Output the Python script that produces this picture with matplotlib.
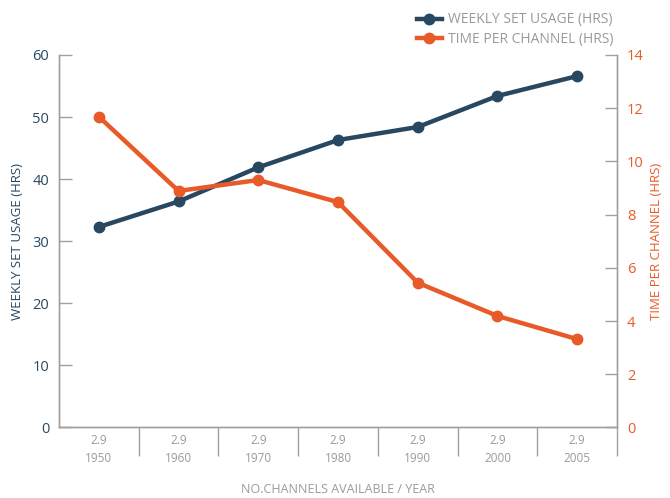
import matplotlib
matplotlib.use("Agg")
import matplotlib.pyplot as plt
from matplotlib.ticker import FixedLocator

# Data
years = ["1950", "1960", "1970", "1980", "1990", "2000", "2005"]
channels = ["2.9", "2.9", "2.9", "2.9", "2.9", "2.9", "2.9"]
weekly_usage = [32.3, 36.4, 41.9, 46.3, 48.4, 53.4, 56.6]
time_per_channel = [11.68, 8.89, 9.30, 8.47, 5.44, 4.19, 3.32]

NAVY = "#284862"
ORANGE = "#e85a27"
GRAY = "#9a9a9a"
SPINE = "#a0a0a0"

plt.rcParams["font.family"] = ["Open Sans", "DejaVu Sans"]

fig = plt.figure(figsize=(6.7, 4.98), dpi=100)
ax = fig.add_axes([0.088, 0.1416, 0.833, 0.748])
ax2 = ax.twinx()

x = list(range(len(years)))

ax.plot(x, weekly_usage, color=NAVY, lw=3.2, marker="o", ms=7.5,
        label="WEEKLY SET USAGE (HRS)", zorder=3)
ax2.plot(x, time_per_channel, color=ORANGE, lw=3.2, marker="o", ms=7.5,
         label="TIME PER CHANNEL (HRS)", zorder=3)

ax.set_xlim(-0.5, len(years) - 0.5)
ax.set_ylim(0, 60)
ax2.set_ylim(0, 14)
ax.set_yticks(range(0, 61, 10))
ax2.set_yticks(range(0, 15, 2))

for a in (ax, ax2):
    a.spines["top"].set_visible(False)
    for s in ("left", "right", "bottom"):
        a.spines[s].set_color(SPINE)
        a.spines[s].set_linewidth(1.0)

ax.tick_params(axis="y", direction="in", length=9, width=1, color=SPINE,
               labelcolor=NAVY, labelsize=10.5, pad=7)
ax2.tick_params(axis="y", direction="in", length=9, width=1, color=SPINE,
                labelcolor=ORANGE, labelsize=10.5, pad=7)

# category labels with separators between them
ax.set_xticks(x)
ax.set_xticklabels([f"{c}\n{y}" for c, y in zip(channels, years)],
                   color=GRAY, fontsize=8.5, linespacing=1.5)
ax.tick_params(axis="x", which="major", length=0, pad=5)
ax.xaxis.set_minor_locator(FixedLocator([i + 0.5 for i in x]))
ax.tick_params(axis="x", which="minor", direction="out", length=21,
               width=1, color=SPINE)

ax.set_xlabel("NO.CHANNELS AVAILABLE / YEAR", color=GRAY, fontsize=9,
              labelpad=13)
ax.set_ylabel("WEEKLY SET USAGE (HRS)", color=NAVY, fontsize=9.5, labelpad=6)
ax2.set_ylabel("TIME PER CHANNEL (HRS)", color=ORANGE, fontsize=9.5,
               labelpad=5)

h1, l1 = ax.get_legend_handles_labels()
h2, l2 = ax2.get_legend_handles_labels()
leg = fig.legend(h1 + h2, l1 + l2, loc="upper right",
                 bbox_to_anchor=(0.935, 1.0), frameon=False, fontsize=10,
                 handlelength=1.8, numpoints=1, labelspacing=0.35,
                 handletextpad=0.5)
for t in leg.get_texts():
    t.set_color(GRAY)

fig.savefig("out.png", dpi=100)
